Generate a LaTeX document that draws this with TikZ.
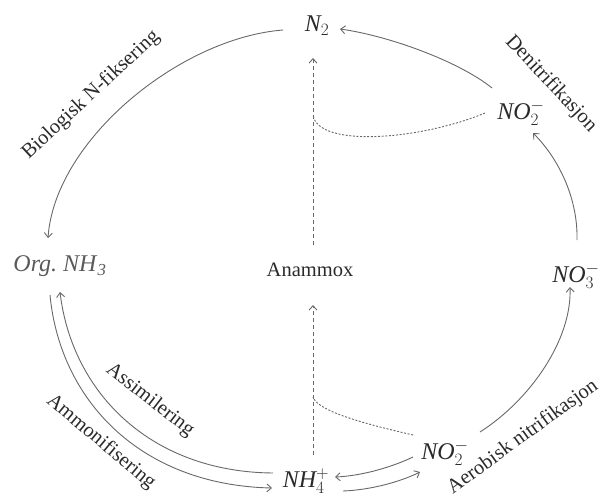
\documentclass[tikz,border=0pt]{standalone}
\usepackage{fontspec}
\setmainfont{Liberation Serif}
\usetikzlibrary{arrows.meta,calc}
\definecolor{linec}{HTML}{686868}
\definecolor{textc}{HTML}{2A2A2A}
\definecolor{orgc}{HTML}{5A5A5A}
\tikzset{
  chem/.style={inner sep=0pt,text=textc,font=\fontsize{24}{28}\selectfont},
  lbl/.style={inner sep=0pt,text=textc,font=\fontsize{20.5}{24}\selectfont},
  arr/.style={draw=linec,line width=0.9pt,-{Straight Barb[length=4.5pt,width=8pt,line width=0.9pt]}},
  dashline/.style={draw=linec,line width=0.9pt,dash pattern=on 4pt off 3pt},
  dotline/.style={draw=linec,line width=0.9pt,dash pattern=on 2pt off 1.6pt}
}
\begin{document}
\begin{tikzpicture}[x=1pt,y=-1pt]
\useasboundingbox (0,0) rectangle (603,499);
% species
\node[chem] (n2) at (317,26) {$\mathit{N}_{2}$};
\node[chem,text=orgc] (org) at (60,266) {\textit{Org.\ NH}$_{\mathit{3}}$};
\node[lbl] (anam) at (310,270) {Anammox};
\node[chem] (no3) at (576,276) {$\mathit{NO}_{3}^{-}$};
\node[chem] (no2u) at (521,113) {$\mathit{NO}_{2}^{-}$};
\node[chem] (no2l) at (445,453) {$\mathit{NO}_{2}^{-}$};
\node[chem] (nh4) at (306,481) {$\mathit{NH}_{4}^{+}$};
% process labels
\node[lbl,rotate=43] (lbio) at (91,95) {Biologisk N-fiksering};
\node[lbl,rotate=-47] (lden) at (551,84) {Denitrifikasjon};
\node[lbl,rotate=-38] (lass) at (150,400) {Assimilering};
\node[lbl,rotate=-40] (lamm) at (101,442) {Ammonifisering};
\node[lbl,rotate=36] (laer) at (523,437) {Aerobisk nitrifikasjon};
% junctions on the anammox line
\coordinate (jU) at ($(anam)+(3,-155)$);
\coordinate (jL) at ($(anam)+(3,127)$);
% main cycle
\draw[arr] ($(n2)+(-34,4)$) .. controls (180,38) and (55,140) .. ($(org)+(-12,-28)$);
\draw[arr] ($(no2u)+(-29,-25)$) .. controls (460,62) and (390,36) .. ($(n2)+(23,3)$);
\draw[arr] ($(no3)+(1,-36)$) .. controls (578,200) and (560,160) .. ($(no2u)+(12,20)$);
\draw[arr] ($(no2l)+(35,-21)$) .. controls (530,400) and (572,340) .. ($(no3)+(-6,11)$);
\draw[arr] ($(no2l)+(-32,4)$) .. controls (390,468) and (360,476) .. ($(nh4)+(29,-4)$);
\draw[arr] ($(nh4)+(37,10)$) .. controls (370,490) and (400,482) .. ($(no2l)+(-25,19)$);
\draw[arr] ($(org)+(-10,29)$) .. controls (60,400) and (140,485) .. ($(nh4)+(-34,7)$);
\draw[arr] ($(nh4)+(-33,-8)$) .. controls (150,472) and (72,392) .. ($(org)+(0,26)$);
% anammox
\draw[dashline,-{Straight Barb[length=4.5pt,width=8pt,line width=0.9pt]}] ($(anam)+(3,-25)$) -- ($(n2)+(-4,32)$);
\draw[dashline,-{Straight Barb[length=4.5pt,width=8pt,line width=0.9pt]}] ($(nh4)+(7,-26)$) -- ($(anam)+(3,35)$);
\draw[dotline] ($(no2u)+(-36,0)$) .. controls (420,140) and (318,148) .. (jU);
\draw[dotline] ($(no2l)+(-32,-18)$) .. controls (370,425) and (318,412) .. (jL);
\end{tikzpicture}
\end{document}
